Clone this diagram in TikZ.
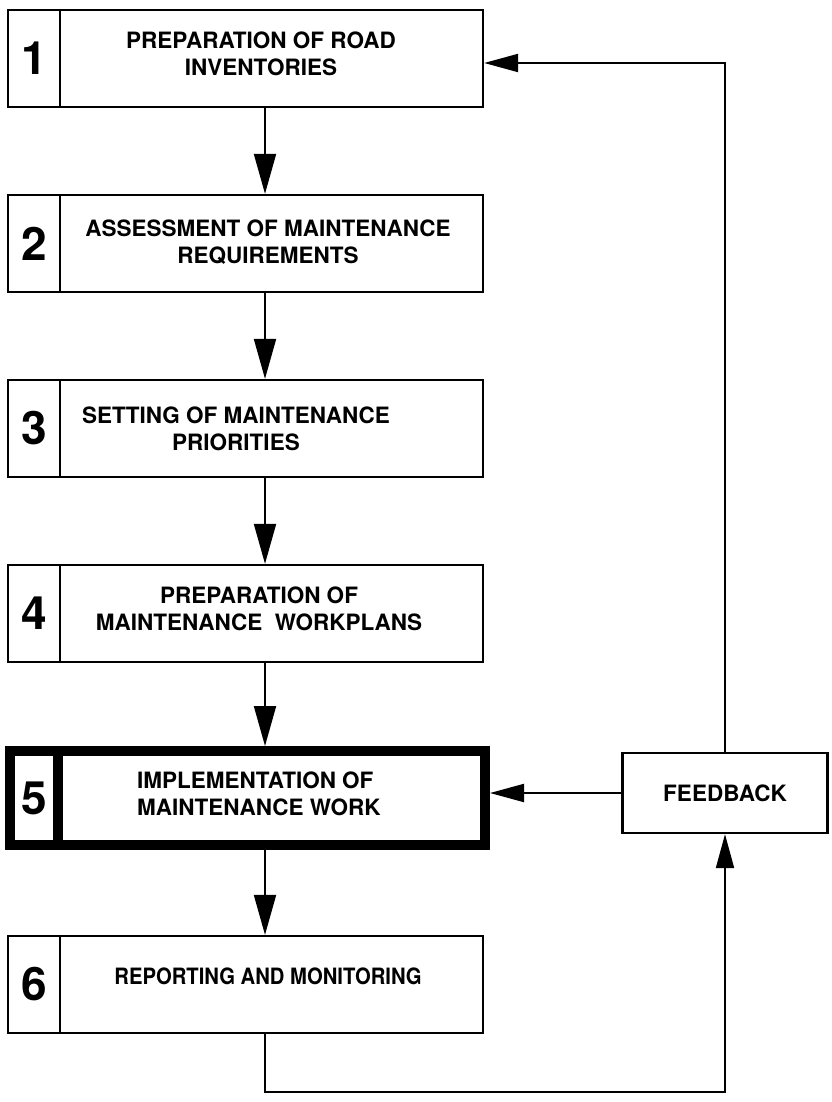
\documentclass[tikz,border=0pt]{standalone}
\usepackage{fontspec}
\setmainfont{TeX Gyre Heros}
\usetikzlibrary{arrows.meta}
\begin{document}
\begin{tikzpicture}[x=1pt,y=-1pt,
  cell/.style={draw, rectangle, line width=2.3pt, inner sep=0pt, minimum height=97pt},
  numcell/.style={cell, minimum width=52pt, font=\bfseries\fontsize{46}{46}\selectfont},
  txtcell/.style={cell, minimum width=423pt},
  heavy/.style={line width=10pt, minimum height=94pt},
  steptext/.style={align=center, inner sep=0pt, font=\bfseries\fontsize{22.5}{27}\selectfont},
  fbbox/.style={draw, rectangle, line width=2.3pt, inner sep=0pt, minimum width=205pt,
    minimum height=80pt, font=\bfseries\fontsize{22.5}{27}\selectfont},
  flow/.style={line width=2pt, -{Triangle[length=40pt,width=22pt]}},
  back/.style={line width=2pt, -{Triangle[length=34pt,width=18pt]}},
]
\useasboundingbox[fill=white] (0,0) rectangle (831,1102);

% step boxes: number cell + text cell
\node[numcell] (n1) at (34,58.5) {1};
\node[txtcell] (b1) at (271.5,58.5) {};
\node[steptext] (t1) at (261,54) {PREPARATION OF ROAD\\INVENTORIES};

\node[numcell] (n2) at (34,243.5) {2};
\node[txtcell] (b2) at (271.5,243.5) {};
\node[steptext] (t2) at (268,242.5) {ASSESSMENT OF MAINTENANCE\\REQUIREMENTS};

\node[numcell] (n3) at (34,428.5) {3};
\node[txtcell] (b3) at (271.5,428.5) {};
\node[steptext] (t3) at (236,429) {SETTING OF MAINTENANCE\\PRIORITIES};

\node[numcell] (n4) at (34,613.5) {4};
\node[txtcell] (b4) at (271.5,613.5) {};
\node[steptext] (t4) at (259,609) {PREPARATION OF\\MAINTENANCE\ \ WORKPLANS};

\node[numcell, heavy, minimum width=48pt] (n5) at (34,798) {5};
\node[txtcell, heavy, minimum width=427pt] (b5) at (271.5,798) {};
\node[steptext, align=left, anchor=west] (t5) at (137,794) {IMPLEMENTATION OF\\MAINTENANCE WORK};

\node[numcell] (n6) at (34,984.5) {6};
\node[txtcell] (b6) at (271.5,984.5) {};
\node[steptext] (t6) at (268,976) {\scalebox{0.9}[1]{REPORTING AND MONITORING}};

\node[fbbox] (fb) at (725,793) {FEEDBACK};

% main sequence
\coordinate (col) at (265,0);
\draw[flow] (b1.south -| col) -- (b2.north -| col);
\draw[flow] (b2.south -| col) -- (b3.north -| col);
\draw[flow] (b3.south -| col) -- (b4.north -| col);
\draw[flow] (b4.south -| col) -- (b5.north -| col);
\draw[flow] (b5.south -| col) -- (b6.north -| col);

% feedback loop
\coordinate (fy) at (0,63);
\coordinate (loopy) at (0,1092);
\draw[back] (fb.north) |- (b1.east |- fy);
\draw[back] (fb.west) -- (fb.west -| b5.east);
\draw[back] (b6.south -| col) |- (fb.south |- loopy) -- (fb.south);
\end{tikzpicture}
\end{document}
